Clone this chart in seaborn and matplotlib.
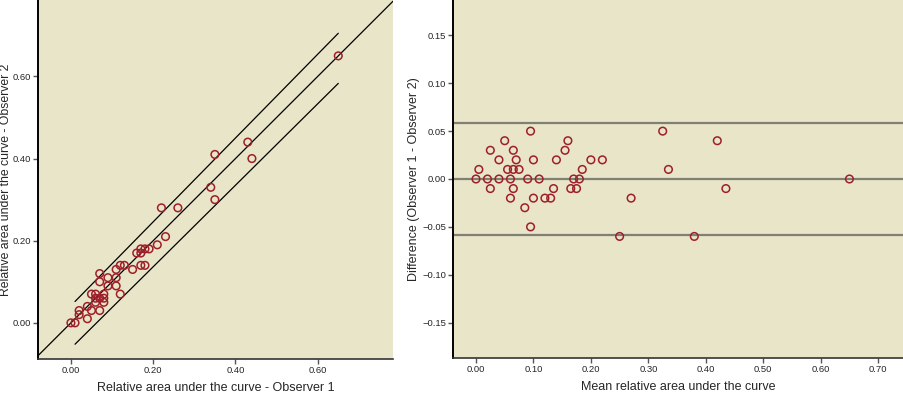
import matplotlib
matplotlib.use('Agg')
import matplotlib.pyplot as plt
import numpy as np
import pandas as pd
import seaborn as sns

# Readings from observer 1 and observer 2 (relative area under the curve)
obs1 = [0.00, 0.01, 0.02, 0.04, 0.02, 0.05, 0.04, 0.07, 0.06, 0.06, 0.05,
        0.08, 0.07, 0.06, 0.08, 0.08, 0.07, 0.09, 0.12, 0.07, 0.11, 0.09,
        0.11, 0.11, 0.12, 0.13, 0.15, 0.17, 0.18, 0.16, 0.17, 0.17, 0.18,
        0.19, 0.21, 0.23, 0.22, 0.26, 0.35, 0.34, 0.35, 0.44, 0.43, 0.65]
obs2 = [0.00, 0.00, 0.02, 0.01, 0.03, 0.03, 0.04, 0.03, 0.05, 0.06, 0.07,
        0.05, 0.06, 0.07, 0.06, 0.07, 0.10, 0.09, 0.07, 0.12, 0.09, 0.11,
        0.11, 0.13, 0.14, 0.14, 0.13, 0.14, 0.14, 0.17, 0.17, 0.18, 0.18,
        0.18, 0.19, 0.21, 0.28, 0.28, 0.30, 0.33, 0.41, 0.40, 0.44, 0.65]

# agreement lines on the scatter panel
band_x = [0.01, 0.65]
band_upper = [0.052, 0.705]
band_lower = [-0.052, 0.583]

# Bland-Altman limits
mean_diff = 0.0
upper_loa = 0.059
lower_loa = -0.058

left_ticks = [0.0, 0.2, 0.4, 0.6]
right_xticks = [0.0, 0.1, 0.2, 0.3, 0.4, 0.5, 0.6, 0.7]
right_yticks = [-0.15, -0.10, -0.05, 0.0, 0.05, 0.10, 0.15]

df = pd.DataFrame({'obs1': obs1, 'obs2': obs2})
df['mean'] = (df['obs1'] + df['obs2']) / 2
df['diff'] = df['obs1'] - df['obs2']

bg = '#E9E5C9'
red = '#9E1F2A'
sns.set_style('ticks', {'axes.facecolor': bg})
plt.rcParams['font.family'] = ['Liberation Sans', 'DejaVu Sans']
plt.rcParams['axes.unicode_minus'] = True

fig = plt.figure(figsize=(9.04, 4.03), dpi=100)
ax1 = fig.add_axes([38 / 904, 1 - 359 / 403, (393 - 38) / 904, 359 / 403])
ax2 = fig.add_axes([453 / 904, 1 - 358 / 403, (904 - 453) / 904, 358 / 403])

# left: observer 1 vs observer 2
ax1.set_xlim(-0.08, 0.783)
ax1.set_ylim(-0.088, 0.786)
ax1.axline((0, 0), slope=1, color='black', lw=0.9)
ax1.plot(band_x, band_upper, color='black', lw=0.9)
ax1.plot(band_x, band_lower, color='black', lw=0.9)
sns.scatterplot(data=df, x='obs1', y='obs2', ax=ax1, marker='o', s=30,
                facecolor='none', edgecolor=red, linewidth=1.1, zorder=3)
ax1.set_xticks(left_ticks)
ax1.set_yticks(left_ticks)
ax1.set_xticklabels([f'{t:.2f}' for t in left_ticks])
ax1.set_yticklabels([f'{t:.2f}' for t in left_ticks])
ax1.set_xlabel('Relative area under the curve - Observer 1', fontsize=9)
ax1.set_ylabel('Relative area under the curve - Observer 2', fontsize=8.8)
ax1.xaxis.set_label_coords(0.5, -0.064)
ax1.yaxis.set_label_coords(-0.073, 0.5)

# right: Bland-Altman
ax2.set_xlim(-0.04, 0.745)
ax2.set_ylim(-0.187, 0.187)
for yv in [upper_loa, mean_diff, lower_loa]:
    ax2.axhline(yv, color='#7F7F72', lw=1.6)
sns.scatterplot(data=df, x='mean', y='diff', ax=ax2, marker='o', s=30,
                facecolor='none', edgecolor=red, linewidth=1.1, zorder=3)
ax2.set_xticks(right_xticks)
ax2.set_yticks(right_yticks)
ax2.set_xticklabels([f'{t:.2f}' for t in right_xticks])
ax2.set_yticklabels([f'{t:.2f}'.replace('-', '\u2212') for t in right_yticks])
ax2.set_xlabel('Mean relative area under the curve', fontsize=9)
ax2.set_ylabel('Difference (Observer 1 - Observer 2)', fontsize=9)
ax2.xaxis.set_label_coords(0.5, -0.064)
ax2.yaxis.set_label_coords(-0.074, 0.5)

for ax in (ax1, ax2):
    ax.spines['top'].set_visible(False)
    ax.spines['right'].set_visible(False)
    ax.spines['left'].set_color('black')
    ax.spines['left'].set_linewidth(1.4)
    ax.spines['bottom'].set_color('#333333')
    ax.spines['bottom'].set_linewidth(1.2)
    ax.tick_params(axis='both', direction='out', length=3.5, width=1,
                   color='#555555', labelsize=6.8, pad=1.5)

fig.savefig('out.png', dpi=100)
